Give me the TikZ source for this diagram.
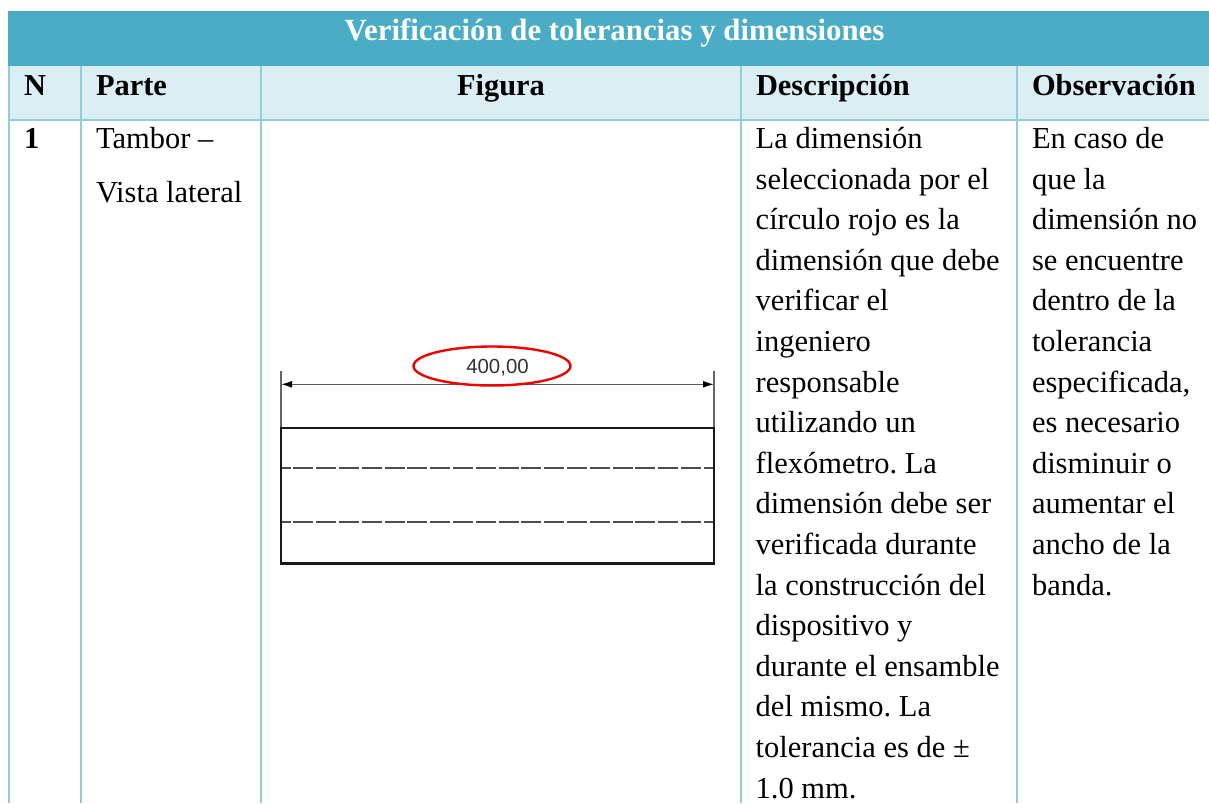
\documentclass[tikz,border=0pt]{standalone}
\usepackage{fontspec}
\setmainfont{Liberation Serif}
\newfontfamily\dimfont{Liberation Sans}
\usetikzlibrary{arrows.meta}
\definecolor{titlebg}{HTML}{4BACC6}
\definecolor{headbg}{HTML}{DAEEF3}
\definecolor{gridline}{HTML}{92CDDC}
\definecolor{dimgray}{HTML}{333333}
\tikzset{
  x=1pt,y=-1pt,
  cell/.style={anchor=base west,inner sep=0pt,outer sep=0pt,font=\fontsize{30.5}{36}\selectfont\frenchspacing,text=black},
  headcell/.style={cell,font=\fontsize{30.4}{36}\selectfont\bfseries},
  titlecell/.style={anchor=base,inner sep=0pt,font=\fontsize{30.8}{36}\selectfont\bfseries,text=white},
  grid/.style={draw=gridline,line width=1.6pt},
  outline/.style={draw=black!90,line width=2.2pt},
  thinline/.style={draw=black!60,line width=1.5pt},
  hidden/.style={draw=black!70,line width=1.7pt,dash pattern=on 20pt off 2.8pt,dash phase=10.5pt},
  dimline/.style={draw=black!65,line width=1.6pt,{Latex[length=11pt,width=7pt,black]}-{Latex[length=11pt,width=7pt,black]}},
}
\begin{document}
\begin{tikzpicture}
\useasboundingbox (0,0) rectangle (1209,803);
\clip (0,0) rectangle (1209,803);
\fill[white] (0,0) rectangle (1209,803);
% bands
\fill[titlebg] (8,11) rectangle (1209,66);
\fill[headbg] (8,66) rectangle (1209,120);
% grid
\draw[grid] (8.8,66) -- (8.8,803);
\draw[grid] (81,66) -- (81,803);
\draw[grid] (261,66) -- (261,803);
\draw[grid] (741,66) -- (741,803);
\draw[grid] (1016.7,66) -- (1016.7,803);
\draw[grid] (8,120) -- (1209,120);
% title and head
\node[titlecell] (title) at (614.5,40) {Verificación de tolerancias y dimensiones};
\node[headcell] (hn) at (24,95) {N};
\node[headcell] (hp) at (96,95) {Parte};
\node[headcell,anchor=base] (hf) at (501,95) {Figura};
\node[headcell] (hd) at (756,95) {Descripción};
\node[headcell] (ho) at (1032,95) {Observación};
% row
\node[headcell] (n1) at (24,148.5) {1};
\node[cell] (p1) at (96,148.5) {Tambor –};
\node[cell] (p2) at (96,202) {Vista lateral};
% description
\foreach \t [count=\i from 0] in {La dimensión,seleccionada por el,círculo rojo es la,dimensión que debe,verificar el,ingeniero,responsable,utilizando un,flexómetro. La,dimensión debe ser,verificada durante,la construcción del,dispositivo y,durante el ensamble,del mismo. La,tolerancia es de ±,1.0 mm.}{
  \node[cell] (d\i) at (755.7,148.5+\i*40.6) {\t};
}
% observation
\foreach \t [count=\i from 0] in {En caso de,que la,dimensión no,se encuentre,dentro de la,tolerancia,{especificada,},es necesario,disminuir o,aumentar el,ancho de la,banda.}{
  \node[cell] (o\i) at (1032,148.5+\i*40.6) {\t};
}
% figure
\node[draw=none,inner sep=0pt,outer sep=0pt,minimum width=433pt,minimum height=135.5pt,anchor=north west] (drum) at (281,428) {};
\draw[thinline] (281,371) coordinate (e1t) -- (drum.north west);
\draw[thinline] (714,371) coordinate (e2t) -- (drum.north east);
\coordinate (a1) at (281,384.3);
\coordinate (a2) at (714,384.3);
\draw[dimline] (a1) -- (a2);
\coordinate (h1l) at (281,468.3);
\coordinate (h1r) at (714,468.3);
\coordinate (h2l) at (281,522.3);
\coordinate (h2r) at (714,522.3);
\draw[hidden] (h1l) -- (h1r);
\draw[hidden] (h2l) -- (h2r);
\draw[outline] (drum.north west) rectangle (drum.south east);
\node[inner sep=0pt,text=dimgray,font=\fontsize{20.4}{24}\dimfont] (dimv) at (497.5,367.5) {400,00};
\draw[red!95!black,line width=2.4pt] (492,366) ellipse [x radius=78.5,y radius=19.5];
\end{tikzpicture}
\end{document}
